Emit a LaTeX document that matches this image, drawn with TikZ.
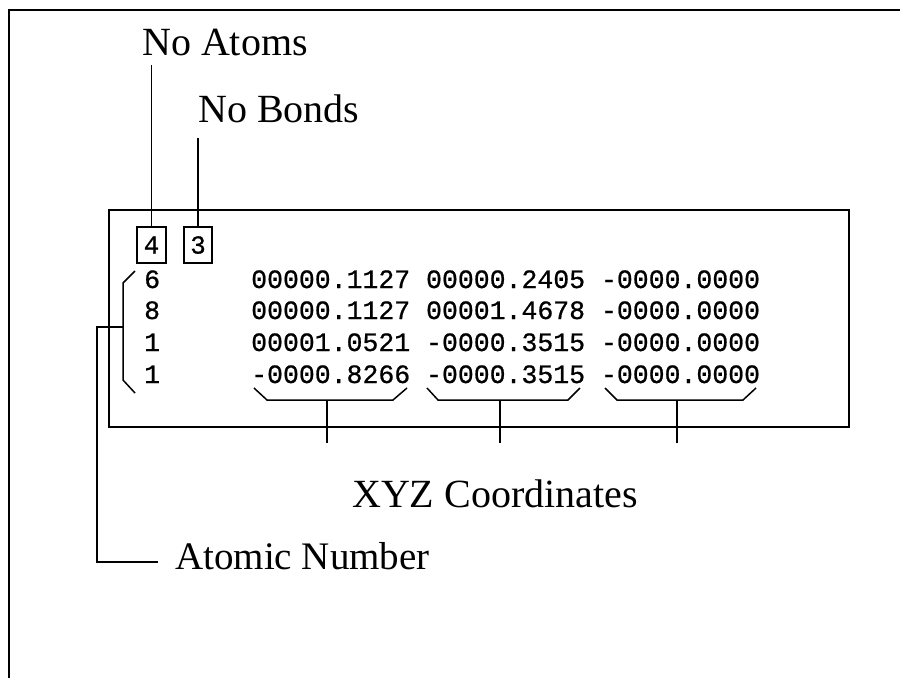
\documentclass[tikz,border=0pt]{standalone}
\usepackage{fontspec}
\setmainfont{Liberation Serif}
\newfontfamily\codefont[FakeBold=0.8]{Liberation Mono}
\begin{document}
\begin{tikzpicture}[x=1pt,y=-1pt,
  lbl/.style={font=\fontsize{40}{40}\selectfont, inner sep=0pt, anchor=base west},
  mono/.style={font=\codefont\fontsize{26.5}{26.5}\selectfont, inner sep=0pt, anchor=base west},
  frameline/.style={line width=2pt},
  conn/.style={line width=1.5pt},
  numbox/.style={draw, line width=1.6pt, minimum width=28pt, minimum height=36pt, inner sep=0pt,
    font=\codefont\fontsize{26}{26}\selectfont}]
\useasboundingbox (0,0) rectangle (900,678);
% outer frame (only top and left edges visible)
\draw[frameline] (9,678) -- (9,10) -- (900,10);
% file box
\node[draw, frameline, minimum width=740pt, minimum height=217pt, inner sep=0pt, anchor=north west] (file) at (108,209) {};
% labels
\node[lbl] (noatoms) at (142,55) {No Atoms};
\node[lbl] (nobonds) at (198,122) {No Bonds};
\node[lbl] (xyz) at (352,507) {XYZ Coordinates};
\node[lbl, font=\fontsize{39}{39}\selectfont] (atomic) at (175,569) {Atomic Number};
% count boxes
\node[numbox, minimum width=29pt, line width=2.2pt] (b4) at (151.5,245) {4};
\node[numbox, line width=1.5pt] (b3) at (198,245) {3};
\coordinate (na) at (151.5,65);
\coordinate (nb) at (198,138);
\draw[conn] (na) -- (b4.north);
\draw[conn] (nb) -- (b3.north);
% atomic numbers
\node[mono] (a1) at (144,288) {6};
\node[mono] (a2) at (144,319) {8};
\node[mono] (a3) at (144,351) {1};
\node[mono] (a4) at (144,383) {1};
% coordinates
\node[mono] (r1) at (251,288) {00000.1127 00000.2405 -0000.0000};
\node[mono] (r2) at (251,319) {00000.1127 00001.4678 -0000.0000};
\node[mono] (r3) at (251,351) {00001.0521 -0000.3515 -0000.0000};
\node[mono] (r4) at (251,383) {-0000.8266 -0000.3515 -0000.0000};
% left brace for atomic numbers
\draw[conn] (135,271) -- (123,283) -- (123,380) -- (135,393);
\coordinate (bm) at (123,327);
\coordinate (an) at (158,562);
\draw[conn] (bm) -- (97,327) |- (an);
% brackets under coordinate columns
\draw[conn] (254,388) -- (267,400) -- (393,400) -- (407,388);
\draw[conn] (427,388) -- (438,400) -- (568,400) -- (580,388);
\draw[conn] (605,388) -- (617,400) -- (743,400) -- (756,388);
\coordinate (s1) at (327,400); \coordinate (e1) at (327,443);
\coordinate (s2) at (500,400); \coordinate (e2) at (500,443);
\coordinate (s3) at (677,400); \coordinate (e3) at (677,443);
\draw[conn] (s1) -- (e1);
\draw[conn] (s2) -- (e2);
\draw[conn] (s3) -- (e3);
\end{tikzpicture}
\end{document}
